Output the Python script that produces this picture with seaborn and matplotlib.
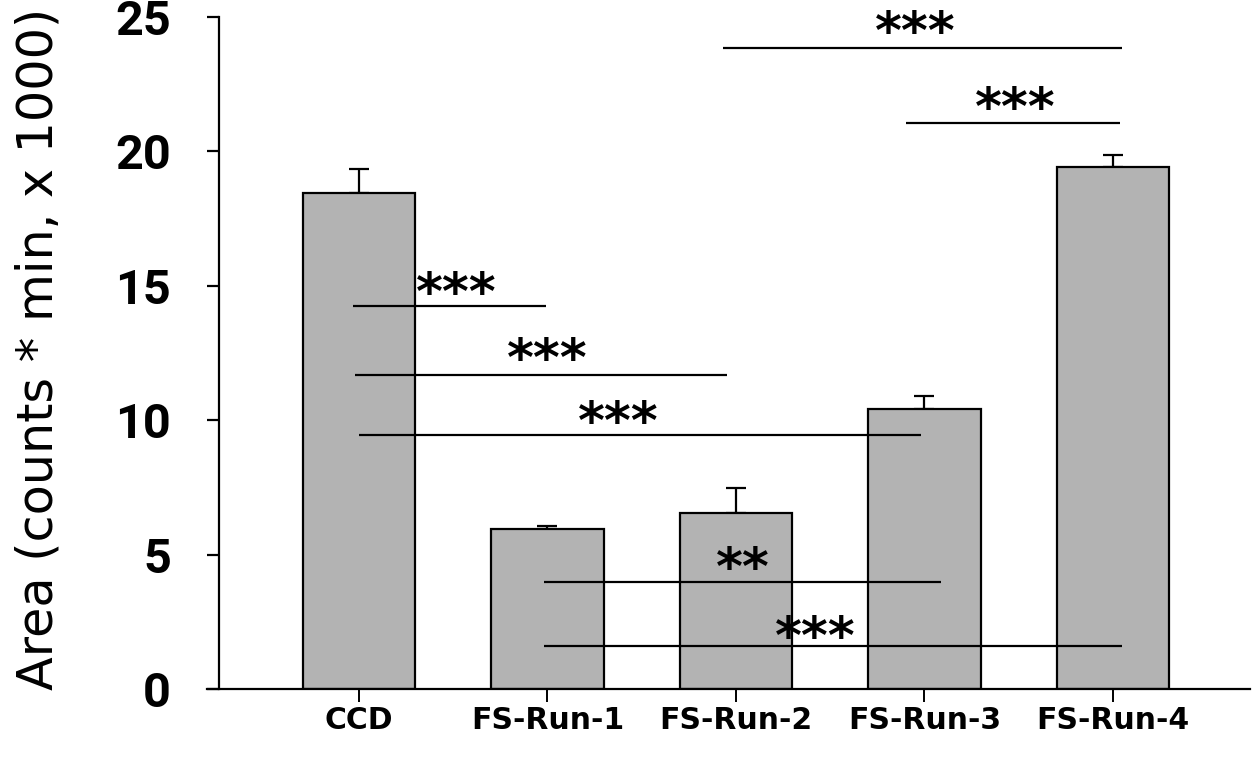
import matplotlib
matplotlib.use("Agg")
import matplotlib.pyplot as plt
import seaborn as sns
import pandas as pd

# ---- data ----
categories = ["CCD", "FS-Run-1", "FS-Run-2", "FS-Run-3", "FS-Run-4"]
means = [18.45, 5.95, 6.55, 10.4, 19.42]
errors = [0.9, 0.1, 0.93, 0.5, 0.45]
yticks = [0, 5, 10, 15, 20, 25]

# significance comparisons: (x start, x end, level, label)
sig_x0 = [-0.03, -0.02, 0.0, 0.98, 0.98, 1.93, 2.9]
sig_x1 = [0.99, 1.95, 2.98, 3.09, 4.05, 4.05, 4.04]
sig_y = [14.25, 11.68, 9.45, 3.98, 1.6, 23.85, 21.05]
sig_label = ["***", "***", "***", "**", "***", "***", "***"]
sig_tx = [0.515, 0.997, 1.374, 2.037, 2.42, 2.95, 3.48]
sig_ty = [15.1, 12.65, 10.3, 4.87, 2.31, 24.8, 22.0]

sns.set_style("white")
plt.rcParams['font.family'] = ['DejaVu Sans']
plt.rcParams['text.color'] = 'black'
plt.rcParams['axes.labelcolor'] = 'black'
plt.rcParams['xtick.color'] = 'black'
plt.rcParams['ytick.color'] = 'black'

fig = plt.figure(figsize=(12.57, 7.58), dpi=100)
ax = fig.add_axes([207 / 1257, 69 / 758, 1043 / 1257, 672 / 758])

df = pd.DataFrame({"cat": categories, "val": means})
sns.barplot(data=df, x="cat", y="val", color="#b3b3b3", saturation=1,
            edgecolor="black", linewidth=1.6, width=0.595, ax=ax, zorder=2)

ax.errorbar(range(len(categories)), means, yerr=[[0] * len(errors), errors],
            fmt="none", ecolor="black", elinewidth=1.6, capsize=7.5,
            capthick=1.6, zorder=1)

for x0, x1, y in zip(sig_x0, sig_x1, sig_y):
    ax.plot([x0, x1], [y, y], color="black", lw=1.6, zorder=3,
            solid_capstyle="butt", clip_on=False)
for tx, ty, lab in zip(sig_tx, sig_ty, sig_label):
    ax.text(tx, ty - 0.45, lab, ha="center", va="center", fontsize=37,
            fontweight="bold", color="black", zorder=4, clip_on=False)

ax.set_xlim(-0.806, 4.727)
ax.set_ylim(0, 25)
ax.set_yticks(yticks)
ax.set_xticks(range(len(categories)))
ax.set_xticklabels(categories)

for s in ["top", "right"]:
    ax.spines[s].set_visible(False)
ax.spines["left"].set_position(("data", -0.743))
ax.spines["left"].set_linewidth(1.6)
ax.spines["bottom"].set_linewidth(1.6)
ax.spines["left"].set_color("black")
ax.spines["bottom"].set_color("black")

ax.tick_params(axis="y", direction="out", length=8.6, width=1.6,
               color="black", pad=26, left=True, labelsize=35,
               labelcolor="black", labelfontfamily="Roboto")
ax.tick_params(axis="x", direction="out", length=9, width=1.4,
               color="black", pad=3, bottom=True, labelsize=21.5,
               labelcolor="black")
for lab in ax.get_yticklabels():
    lab.set_fontweight("bold")
for lab in ax.get_xticklabels():
    lab.set_fontweight("bold")

ax.set_xlabel("")
ax.set_ylabel("Area (counts * min, x 1000)", fontsize=35.5, color="black")
ax.yaxis.set_label_coords(-0.139, 0.506)

fig.savefig("out.png", dpi=100)
